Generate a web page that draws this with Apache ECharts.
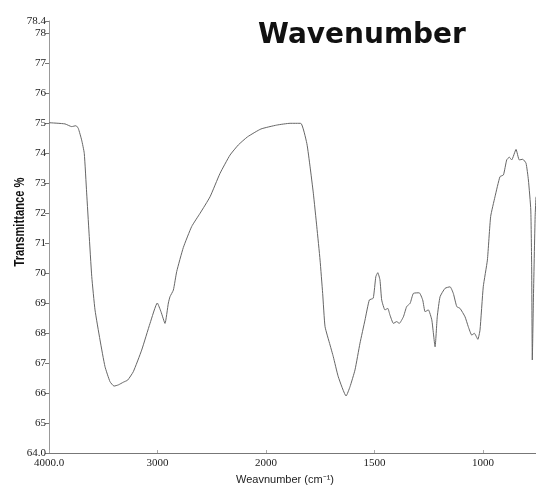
<!DOCTYPE html>
<html>
<head>
<meta charset="utf-8">
<script src="https://cdn.jsdelivr.net/npm/echarts@6/dist/echarts.min.js"></script>
<style>html,body{margin:0;padding:0;background:#fff}#c{width:536px;height:489px}</style>
</head>
<body>
<div id="c"></div>
<script>
// Wavenumber (cm-1) readings
var wavenumbers = [4000, 3853, 3791, 3751, 3730, 3699, 3675, 3653, 3631, 3606, 3576, 3530, 3484, 3438, 3401, 3361, 3315, 3275, 3223, 3146, 3069, 3002, 2968, 2931, 2900, 2885, 2854, 2823, 2762, 2685, 2608, 2516, 2424, 2332, 2255, 2170, 2047, 1951, 1889, 1840, 1812, 1797, 1782, 1766, 1751, 1739, 1728, 1705, 1690, 1667, 1631, 1613, 1590, 1567, 1544, 1524, 1506, 1494, 1485, 1475, 1467, 1452, 1439, 1429, 1413, 1398, 1386, 1367, 1352, 1336, 1321, 1294, 1278, 1267, 1252, 1236, 1221, 1211, 1198, 1175, 1152, 1137, 1121, 1106, 1083, 1068, 1052, 1040, 1024, 1014, 999, 980, 965, 945, 922, 906, 891, 879, 868, 848, 833, 817, 802, 791, 780, 776, 773, 768, 760, 756];
// Transmittance (%) readings
var transmittance = [75.01, 74.97, 74.88, 74.91, 74.82, 74.43, 73.99, 72.67, 71.33, 69.88, 68.77, 67.77, 66.88, 66.38, 66.23, 66.27, 66.36, 66.43, 66.71, 67.43, 68.32, 69.0, 68.71, 68.32, 69.0, 69.21, 69.43, 70.05, 70.85, 71.55, 71.99, 72.54, 73.32, 73.93, 74.27, 74.54, 74.8, 74.93, 74.99, 74.99, 74.32, 73.54, 72.66, 71.54, 70.43, 69.32, 68.21, 67.6, 67.21, 66.54, 65.9, 66.21, 66.77, 67.66, 68.43, 69.1, 69.16, 69.88, 70.01, 69.77, 69.1, 68.77, 68.82, 68.6, 68.32, 68.38, 68.32, 68.54, 68.88, 68.99, 69.32, 69.34, 69.1, 68.71, 68.77, 68.43, 67.54, 68.54, 69.21, 69.49, 69.54, 69.32, 68.88, 68.82, 68.54, 68.21, 67.93, 67.99, 67.79, 68.1, 69.54, 70.43, 71.88, 72.54, 73.21, 73.27, 73.77, 73.86, 73.77, 74.12, 73.77, 73.79, 73.66, 73.1, 72.1, 70.21, 67.1, 69.1, 71.88, 72.54];
// Tick labels
var xTickWavenumbers = [4000, 3000, 2000, 1500, 1000];
var yMin = 64, yMax = 78.4, xEnd = 756;

// IR-style axis: scale doubles below 2000 cm-1
function toAxis(w) { return w >= 2000 ? 4000 - w : 2000 + 2 * (2000 - w); }
function fromAxis(u) { return u <= 2000 ? 4000 - u : 2000 - (u - 2000) / 2; }

var data = wavenumbers.map(function (w, i) { return [toAxis(w), transmittance[i]]; });
var tickSet = xTickWavenumbers.map(toAxis);

var chart = echarts.init(document.getElementById('c'), null, { renderer: 'canvas' });
chart.setOption({
  animation: false,
  backgroundColor: '#ffffff',
  grid: { left: 49, right: 0, top: 21, bottom: 36, containLabel: false },
  xAxis: {
    type: 'value', min: 0, max: toAxis(xEnd), interval: 1000,
    axisLine: { show: true, lineStyle: { color: '#777', width: 1 } },
    axisTick: { show: true, inside: true, length: 3, lineStyle: { color: '#aaa' } },
    splitLine: { show: false },
    axisLabel: {
      showMaxLabel: false, margin: 5,
      fontFamily: 'Liberation Serif', fontSize: 11, color: '#222',
      formatter: function (u) {
        if (tickSet.indexOf(u) < 0) return '';
        var w = fromAxis(u);
        return w === 4000 ? '4000.0' : String(w);
      }
    }
  },
  yAxis: {
    type: 'value', min: yMin, max: yMax, interval: 1,
    axisLine: { show: true, lineStyle: { color: '#999', width: 1 } },
    axisTick: { show: true, length: 4, lineStyle: { color: '#777' } },
    splitLine: { show: false },
    axisLabel: {
      margin: 3, fontFamily: 'Liberation Serif', fontSize: 11, color: '#222',
      showMaxLabel: true, showMinLabel: true,
      formatter: function (v) {
        if (Math.abs(v - yMax) < 1e-6) return String(yMax);
        if (v === yMin) return yMin.toFixed(1);
        return String(Math.round(v));
      }
    }
  },
  series: [{
    type: 'line', data: data, showSymbol: false, smooth: 0.15,
    lineStyle: { color: '#666', width: 1 }
  }],
  graphic: [
    { type: 'text', left: 258, top: 22,
      style: { text: 'Wavenumber', fontFamily: 'DejaVu Sans', fontWeight: 'bold', fontSize: 28, fill: '#111' } },
    { type: 'text', x: 20.5, y: 222, rotation: Math.PI / 2, scaleX: 0.8,
      style: { text: 'Transmittance %', fontFamily: 'Liberation Sans', fontWeight: 'bold', fontSize: 14, fill: '#111', align: 'center', verticalAlign: 'middle' } },
    { type: 'text', x: 285, y: 480,
      style: { text: 'Weavnumber (cm\u207B\u00B9)', fontFamily: 'Liberation Sans Narrow, Liberation Sans', fontSize: 11, fill: '#222', align: 'center', verticalAlign: 'middle' } }
  ]
});
</script>
</body>
</html>
